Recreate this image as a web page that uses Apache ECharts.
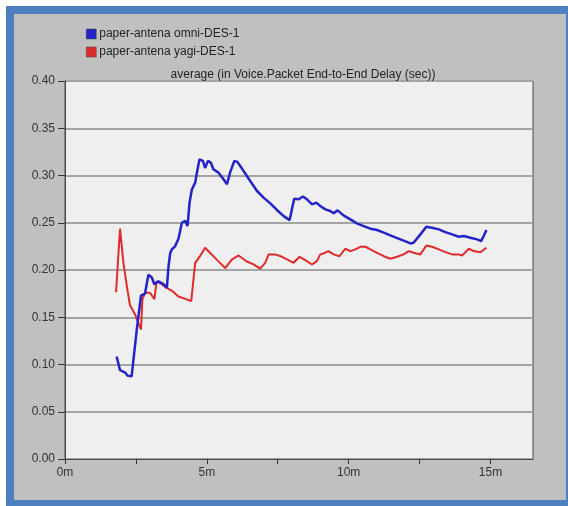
<!DOCTYPE html>
<html>
<head>
<meta charset="utf-8">
<script src="https://cdn.jsdelivr.net/npm/echarts@6/dist/echarts.min.js"></script>
<style>
  html, body { margin: 0; padding: 0; background: #ffffff; }
  #wrap { position: relative; width: 568px; height: 506px; overflow: hidden; background: #ffffff; }
  #frame { position: absolute; left: 6px; top: 6px; width: 562px; height: 500px; background: #4e80c0; }
  #panel { position: absolute; left: 14px; top: 14px; width: 552px; height: 486px; background: #c0c0c0; }
  #chart { position: absolute; left: 0; top: 0; width: 568px; height: 506px; }
</style>
</head>
<body>
<div id="wrap">
  <div id="frame"></div>
  <div id="panel"></div>
  <div id="chart"></div>
</div>
<script>
// ---- data ----
const chartTitle = 'average (in Voice.Packet End-to-End Delay (sec))';
const seriesNames = ['paper-antena omni-DES-1', 'paper-antena yagi-DES-1'];
const xTickValues = [0, 5, 10, 15];                 // minutes, labelled "0m", "5m", ...
const xMinorTickValues = [0, 2.5, 5, 7.5, 10, 12.5, 15];
const yTickLabels = ['0.00','0.05','0.10','0.15','0.20','0.25','0.30','0.35','0.40'];

// [time (min), delay (sec)]
const omniDelay = [
  [1.82,0.1085],[1.94,0.094],[2.12,0.0915],[2.21,0.088],[2.35,0.0875],[2.53,0.137],
  [2.68,0.173],[2.82,0.175],[2.94,0.195],[3.06,0.192],[3.15,0.185],[3.29,0.188],
  [3.47,0.185],[3.59,0.181],[3.65,0.204],[3.71,0.218],[3.77,0.222],[3.88,0.225],
  [4.0,0.233],[4.12,0.25],[4.24,0.252],[4.32,0.2465],[4.39,0.271],[4.47,0.285],
  [4.59,0.2925],[4.65,0.303],[4.74,0.317],[4.86,0.3155],[4.94,0.308],[5.04,0.3155],
  [5.14,0.3137],[5.23,0.3066],[5.41,0.303],[5.59,0.296],[5.71,0.2907],[5.82,0.303],
  [5.97,0.3155],[6.08,0.3144],[6.29,0.305],[6.53,0.2942],[6.77,0.2836],[7.0,0.2766],
  [7.24,0.2705],[7.47,0.2635],[7.71,0.257],[7.92,0.2528],[8.08,0.2755],[8.24,0.2748],
  [8.39,0.2777],[8.53,0.2748],[8.71,0.2695],[8.86,0.2713],[9.0,0.2677],[9.18,0.2642],
  [9.35,0.2624],[9.47,0.26],[9.61,0.2631],[9.82,0.2578],[10.06,0.2536],[10.29,0.2493],
  [10.53,0.2465],[10.77,0.2437],[11.0,0.2423],[11.24,0.2395],[11.47,0.2366],[11.71,0.2338],
  [11.94,0.231],[12.18,0.2281],[12.29,0.2288],[12.53,0.2377],[12.74,0.2458],[12.94,0.2448],
  [13.18,0.243],[13.41,0.2401],[13.65,0.2377],[13.88,0.2352],[14.06,0.2359],[14.29,0.2342],
  [14.53,0.2324],[14.67,0.2306],[14.76,0.2359],[14.86,0.2423]
];
const yagiDelay = [
  [1.80,0.1765],[1.94,0.2437],[2.06,0.2076],[2.18,0.183],[2.29,0.163],[2.47,0.153],
  [2.68,0.137],[2.73,0.169],[2.82,0.176],[3.0,0.176],[3.15,0.169],[3.23,0.188],
  [3.41,0.185],[3.59,0.181],[3.77,0.178],[4.0,0.172],[4.24,0.1695],[4.45,0.167],
  [4.59,0.2076],[4.76,0.2146],[4.94,0.2235],[5.12,0.218],[5.35,0.211],[5.65,0.202],
  [5.88,0.211],[6.12,0.2154],[6.41,0.209],[6.65,0.206],[6.88,0.2015],[7.06,0.2076],
  [7.18,0.2165],[7.41,0.2165],[7.65,0.214],[7.88,0.2104],[8.06,0.2076],[8.27,0.214],
  [8.47,0.2104],[8.71,0.2058],[8.88,0.2094],[9.0,0.2165],[9.14,0.2178],[9.29,0.22],
  [9.47,0.2165],[9.68,0.2146],[9.88,0.2225],[10.06,0.22],[10.24,0.2218],[10.41,0.2246],
  [10.59,0.2246],[10.77,0.2218],[11.0,0.2182],[11.24,0.2146],[11.47,0.2119],[11.71,0.214],
  [11.94,0.2165],[12.12,0.22],[12.29,0.2182],[12.53,0.2165],[12.74,0.226],[12.94,0.2246],
  [13.18,0.2218],[13.41,0.2189],[13.65,0.2165],[13.88,0.2165],[14.0,0.2154],[14.24,0.2225],
  [14.41,0.22],[14.65,0.2189],[14.86,0.2235]
];

const font = "'Liberation Sans', Arial, sans-serif";
const chart = echarts.init(document.getElementById('chart'), null, { renderer: 'canvas' });

chart.setOption({
  backgroundColor: 'transparent',
  animation: false,
  title: {
    text: chartTitle,
    left: 298,
    top: 64,
    textAlign: 'center',
    textStyle: { fontFamily: font, fontSize: 12, fontWeight: 'normal', color: '#222' }
  },
  legend: {
    orient: 'vertical',
    left: 81,
    top: 23,
    itemWidth: 10,
    itemHeight: 10,
    itemGap: 6,
    icon: 'rect',
    data: seriesNames,
    textStyle: { fontFamily: font, fontSize: 12, color: '#222', padding: [0, 0, 0, -2] },
    itemStyle: { borderColor: '#444', borderWidth: 0.5 }
  },
  grid: {
    left: 65, right: 35, top: 81, bottom: 47,
    show: true,
    backgroundColor: '#efefef',
    borderColor: '#4a4a4a',
    borderWidth: 1
  },
  xAxis: {
    type: 'value',
    min: 0,
    max: 16.5,
    interval: 5,
    axisLine: { show: true, onZero: false, lineStyle: { color: '#4a4a4a', width: 1 } },
    axisTick: { show: true, length: 5, customValues: xMinorTickValues, lineStyle: { color: '#333' } },
    minorTick: { show: false },
    splitLine: { show: false },
    axisLabel: {
      margin: 8,
      customValues: xTickValues,
      fontFamily: font, fontSize: 12, color: '#333',
      formatter: function (v) { return v + 'm'; }
    }
  },
  yAxis: {
    type: 'value',
    min: 0,
    max: 0.4,
    interval: 0.05,
    axisLine: { show: true, lineStyle: { color: '#4a4a4a', width: 1 } },
    axisTick: { show: true, length: 7, lineStyle: { color: '#333' } },
    splitLine: { show: true, lineStyle: { color: '#a4a4a4', width: 2 } },
    axisLabel: {
      margin: 10,
      fontFamily: font, fontSize: 12, color: '#333',
      formatter: function (v) { return yTickLabels[Math.round(v / 0.05)]; }
    }
  },
  series: [
    {
      name: seriesNames[0],
      type: 'line',
      data: omniDelay,
      symbol: 'none',
      color: '#2323c8',
      lineStyle: { width: 2.5, color: '#2323c8' },
      z: 3
    },
    {
      name: seriesNames[1],
      type: 'line',
      data: yagiDelay,
      symbol: 'none',
      color: '#e02a2a',
      lineStyle: { width: 2, color: '#e02a2a' },
      z: 2
    }
  ]
});
</script>
</body>
</html>
